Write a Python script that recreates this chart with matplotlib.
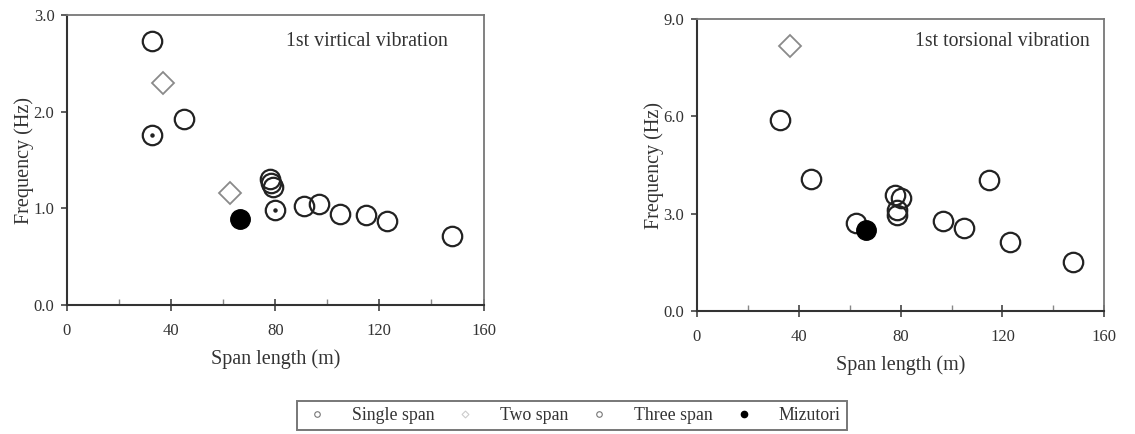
import numpy as np
import matplotlib
matplotlib.use("Agg")
import matplotlib.pyplot as plt
from matplotlib.lines import Line2D

plt.rcParams['font.family'] = ['Liberation Serif', 'DejaVu Serif']

# 1st vertical vibration
v_single_x = [32.8, 44.9, 77.8, 78.3, 79.0, 90.9, 97.0, 105.0, 115.0, 123.0, 148.0]
v_single_y = [2.73, 1.93, 1.30, 1.26, 1.22, 1.03, 1.05, 0.94, 0.93, 0.87, 0.71]
v_two_x = [36.7, 62.7]
v_two_y = [2.30, 1.16]
v_three_x = [32.8, 80.0]
v_three_y = [1.76, 0.98]
v_miz_x = [66.3]
v_miz_y = [0.89]

# 1st torsional vibration
t_single_x = [32.8, 44.8, 62.3, 77.7, 80.3, 78.7, 78.7, 96.6, 104.9, 114.7, 122.8, 147.6]
t_single_y = [5.88, 4.06, 2.72, 3.57, 3.50, 3.11, 2.95, 2.77, 2.56, 4.03, 2.13, 1.53]
t_two_x = [36.6]
t_two_y = [8.18]
t_miz_x = [66.3]
t_miz_y = [2.49]

xticks = [0, 40, 80, 120, 160]
TXT = '#333333'
EDGE = '#222222'

fig = plt.figure(figsize=(11.35, 4.34), dpi=100)
ax1 = fig.add_axes([0.059, 0.297, 0.367, 0.668])
ax2 = fig.add_axes([0.614, 0.283, 0.359, 0.673])


def draw(ax, sx, sy, tx, ty, thx, thy, mx, my, ymax, label):
    ms = 14
    ax.plot(sx, sy, 'o', ms=ms, mfc='none', mec=EDGE, mew=1.6, ls='none')
    ax.plot(tx, ty, 'D', ms=ms * 0.8, mfc='none', mec='#8a8a8a', mew=1.3, ls='none')
    if thx:
        ax.plot(thx, thy, 'o', ms=ms, mfc='none', mec=EDGE, mew=1.6, ls='none')
        ax.plot(thx, thy, 'o', ms=2.2, mfc=EDGE, mec=EDGE, ls='none')
    ax.plot(mx, my, 'o', ms=ms, mfc='black', mec='black', ls='none')
    ax.set_xlim(0, 160)
    ax.set_ylim(0, ymax)
    ax.set_xticks(xticks)
    ax.set_xticks([20, 60, 100, 140], minor=True)
    yt = np.linspace(0, ymax, 4)
    ax.set_yticks(yt)
    ax.set_yticklabels(['%.1f' % v for v in yt])
    ax.tick_params(axis='x', which='major', direction='inout', length=8, width=1.2,
                   colors='#444444', labelsize=12, labelcolor=TXT, pad=9)
    ax.tick_params(axis='x', which='minor', direction='in', length=4, width=1,
                   colors='#888888')
    ax.tick_params(axis='y', direction='out', length=4, width=1.2,
                   colors='#444444', labelsize=12, labelcolor=TXT, pad=5)
    for s in ['left', 'bottom']:
        ax.spines[s].set_color('#333333')
        ax.spines[s].set_linewidth(1.5)
    for s in ['top', 'right']:
        ax.spines[s].set_color('#777777')
        ax.spines[s].set_linewidth(1.3)
    ax.set_xlabel('Span length (m)', fontsize=14.5, color=TXT, labelpad=7)
    ax.set_ylabel('Frequency (Hz)', fontsize=14.5, color=TXT, labelpad=0)
    ax.text(0.915, 0.91, label, transform=ax.transAxes, ha='right', va='center',
            fontsize=14.3, color=TXT)


draw(ax1, v_single_x, v_single_y, v_two_x, v_two_y, v_three_x, v_three_y,
     v_miz_x, v_miz_y, 3.0, '1st virtical vibration')
draw(ax2, t_single_x, t_single_y, t_two_x, t_two_y, [], [],
     t_miz_x, t_miz_y, 9.0, '1st torsional vibration')
ax2.texts[0].set_position((0.963, 0.925))

handles = [
    Line2D([], [], marker='o', ls='none', ms=4, mfc='none', mec='#777777', mew=0.8),
    Line2D([], [], marker='D', ls='none', ms=3.5, mfc='none', mec='#cccccc', mew=0.8),
    Line2D([], [], marker='o', ls='none', ms=4, mfc='none', mec='#777777', mew=0.8),
    Line2D([], [], marker='o', ls='none', ms=4.5, mfc='black', mec='black'),
]
labels = ['Single span', 'Two span', 'Three span', 'Mizutori']
leg = fig.legend(handles, labels, loc='lower left', ncol=4,
                 bbox_to_anchor=(0.262, 0.009, 0.484, 0.077), mode='expand',
                 frameon=True, fancybox=False, fontsize=12.8, handlelength=1.5,
                 handletextpad=1.2, columnspacing=1.2, borderaxespad=0,
                 borderpad=0.35)
leg.get_frame().set_edgecolor('#555555')
leg.get_frame().set_linewidth(1.4)
for t in leg.get_texts():
    t.set_color(TXT)

fig.savefig('out.png', dpi=100)
